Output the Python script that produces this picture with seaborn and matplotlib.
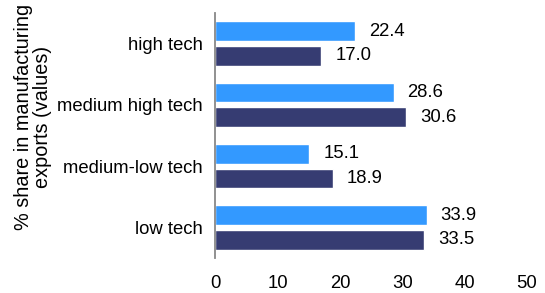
import matplotlib
matplotlib.use("Agg")
import matplotlib.pyplot as plt
import seaborn as sns
import pandas as pd

categories = ["high tech", "medium high tech", "medium-low tech", "low tech"]
series_a = [22.4, 28.6, 15.1, 33.9]
series_b = [17.0, 30.6, 18.9, 33.5]
series_names = ["A", "B"]
colors = ["#3399ff", "#363c72"]

df = pd.DataFrame({
    "category": categories * 2,
    "value": series_a + series_b,
    "series": [series_names[0]] * 4 + [series_names[1]] * 4,
})

sns.set_style("white")
plt.rcParams["font.family"] = ["Liberation Sans", "DejaVu Sans"]

fig = plt.figure(figsize=(5.45, 2.93), dpi=100)
ax = fig.add_axes([0.395, 0.119, 0.572, 0.837])

sns.barplot(data=df, x="value", y="category", hue="series", orient="h",
            palette=colors, width=0.8, gap=0.2, ax=ax, legend=False,
            saturation=1, errorbar=None)

for cont in ax.containers:
    ax.bar_label(cont, fmt="%.1f", padding=10, fontsize=13.3, color="black")

ax.set_xlim(0, 50)
ax.set_xticks([0, 10, 20, 30, 40, 50])
ax.set_ylim(3.5, -0.5)
ax.set_xlabel("")
ax.set_ylabel("% share in manufacturing\nexports (values)", fontsize=14.3,
              color="black", linespacing=1.0)
ax.yaxis.set_label_coords(-0.525, 0.575)
ax.tick_params(axis="y", length=0, pad=9, labelsize=13.3, labelcolor="black")
ax.tick_params(axis="x", length=0, pad=12, labelsize=13.3, labelcolor="black")

for s in ["top", "right", "bottom"]:
    ax.spines[s].set_visible(False)
ax.spines["left"].set_color("#888888")
ax.spines["left"].set_linewidth(1.3)

fig.savefig("out.png", dpi=100)
